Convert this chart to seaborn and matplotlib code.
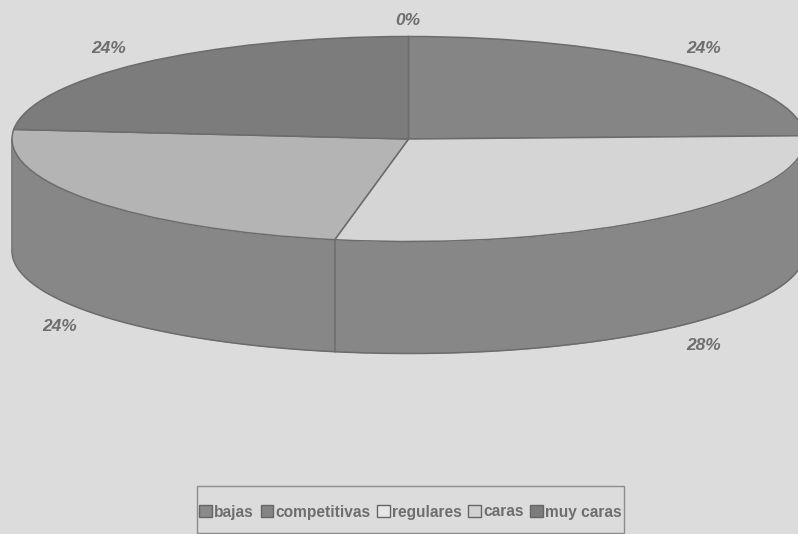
import matplotlib
matplotlib.use("Agg")
import matplotlib.pyplot as plt
import numpy as np
import seaborn as sns

# Price perception shares, in percent
categories = ["bajas", "competitivas", "regulares", "caras", "muy caras"]
shares = [0.0, 24.49, 28.49, 23.51, 23.51]
top_colors = ["#8a8a8a", "#858585", "#d5d5d5", "#b4b4b4", "#7c7c7c"]
key_colors = ["#8a8a8a", "#858585", "#e6e6e6", "#d2d2d2", "#7c7c7c"]
label_offsets = [(-1, -16), (19, -17), (37, 17), (-32, 14), (-33, -15)]

BG = "#dcdcdc"
EDGE = "#6c6c6c"
INK = "#6e6e6e"
WALL = "#878787"

W, H = 798, 534
CX, CY = 408.5, 139    # disc centre, pixels
RX, RY = 396.5, 102.5  # disc radii, pixels
DEPTH = 112            # wall height, pixels
SQUASH = RY / RX

sns.set_theme(style="white")
plt.rcParams["font.family"] = ["Liberation Sans", "DejaVu Sans"]

fig = plt.figure(figsize=(W / 100, H / 100), dpi=100, facecolor=BG)
ax = fig.add_axes([0, 0, 1, 1])

# The disc is an ordinary pie seen through an anisotropic y scale
wedges, _ = ax.pie(
    shares,
    colors=top_colors,
    startangle=90,
    counterclock=False,
    radius=RX,
    wedgeprops=dict(edgecolor=EDGE, linewidth=1.1, zorder=3),
)
ax.set_aspect("auto")
ax.set_xlim(-CX, W - CX)
ax.set_ylim(-(H - CY) / SQUASH, CY / SQUASH)
ax.set_axis_off()

depth = DEPTH / SQUASH
cum = np.cumsum([0] + shares)
bearing = cum * 3.6  # clockwise from twelve o'clock, degrees


def rim(deg):
    rad = np.radians(deg)
    return RX * np.sin(rad), RX * np.cos(rad)


# Cylinder wall along the front half of the rim
arc = np.linspace(90, 270, 240)
ax_x, ax_y = rim(arc)
ax.fill_between(ax_x, ax_y - depth, ax_y, color=WALL, lw=0, zorder=1)
ax.plot(ax_x, ax_y - depth, color=EDGE, lw=1.1, zorder=2)
for side in (90, 270):
    sx, sy = rim(side)
    ax.plot([sx, sx], [sy, sy - depth], color=EDGE, lw=1.1, zorder=2)

# Wall seams where a slice boundary meets the front of the rim
for b in bearing[1:-1]:
    if 90 < b < 270:
        sx, sy = rim(b)
        ax.plot([sx, sx], [sy, sy - depth], color=EDGE, lw=1.1, zorder=2)

# Percent labels sit just outside the visible rim of each slice
for share, start, stop, off in zip(shares, bearing[:-1], bearing[1:], label_offsets):
    mid = (start + stop) / 2
    lx, ly = rim(mid)
    if 90 < mid < 270:
        ly -= depth
    ax.annotate(
        f"{share:.0f}%",
        xy=(lx, ly),
        xytext=(off[0] * 0.72, -off[1] * 0.72),
        textcoords="offset points",
        ha="center",
        va="center",
        fontsize=12.5,
        style="italic",
        fontweight="bold",
        color=INK,
    )

# Legend entries in a single row, with a hand-sized box around them
handles = [
    plt.Rectangle((0, 0), 1, 1, facecolor=c, edgecolor="#666666", linewidth=1.0)
    for c in key_colors
]
ax.legend(
    handles,
    categories,
    ncols=5,
    loc="center",
    bbox_to_anchor=(410.5 / W, 1 - 512 / H),
    frameon=False,
    handlelength=0.8,
    handleheight=0.8,
    handletextpad=0.15,
    columnspacing=0.43,
    borderpad=0,
    borderaxespad=0,
    prop=dict(weight="bold", size=11.2),
    labelcolor=INK,
)
fig.add_artist(
    plt.Rectangle(
        (197 / W, 1 - 533 / H),
        427 / W,
        47 / H,
        transform=fig.transFigure,
        fill=False,
        edgecolor="#8c8c8c",
        linewidth=1.0,
    )
)

fig.savefig("out.png", dpi=100, facecolor=BG)
